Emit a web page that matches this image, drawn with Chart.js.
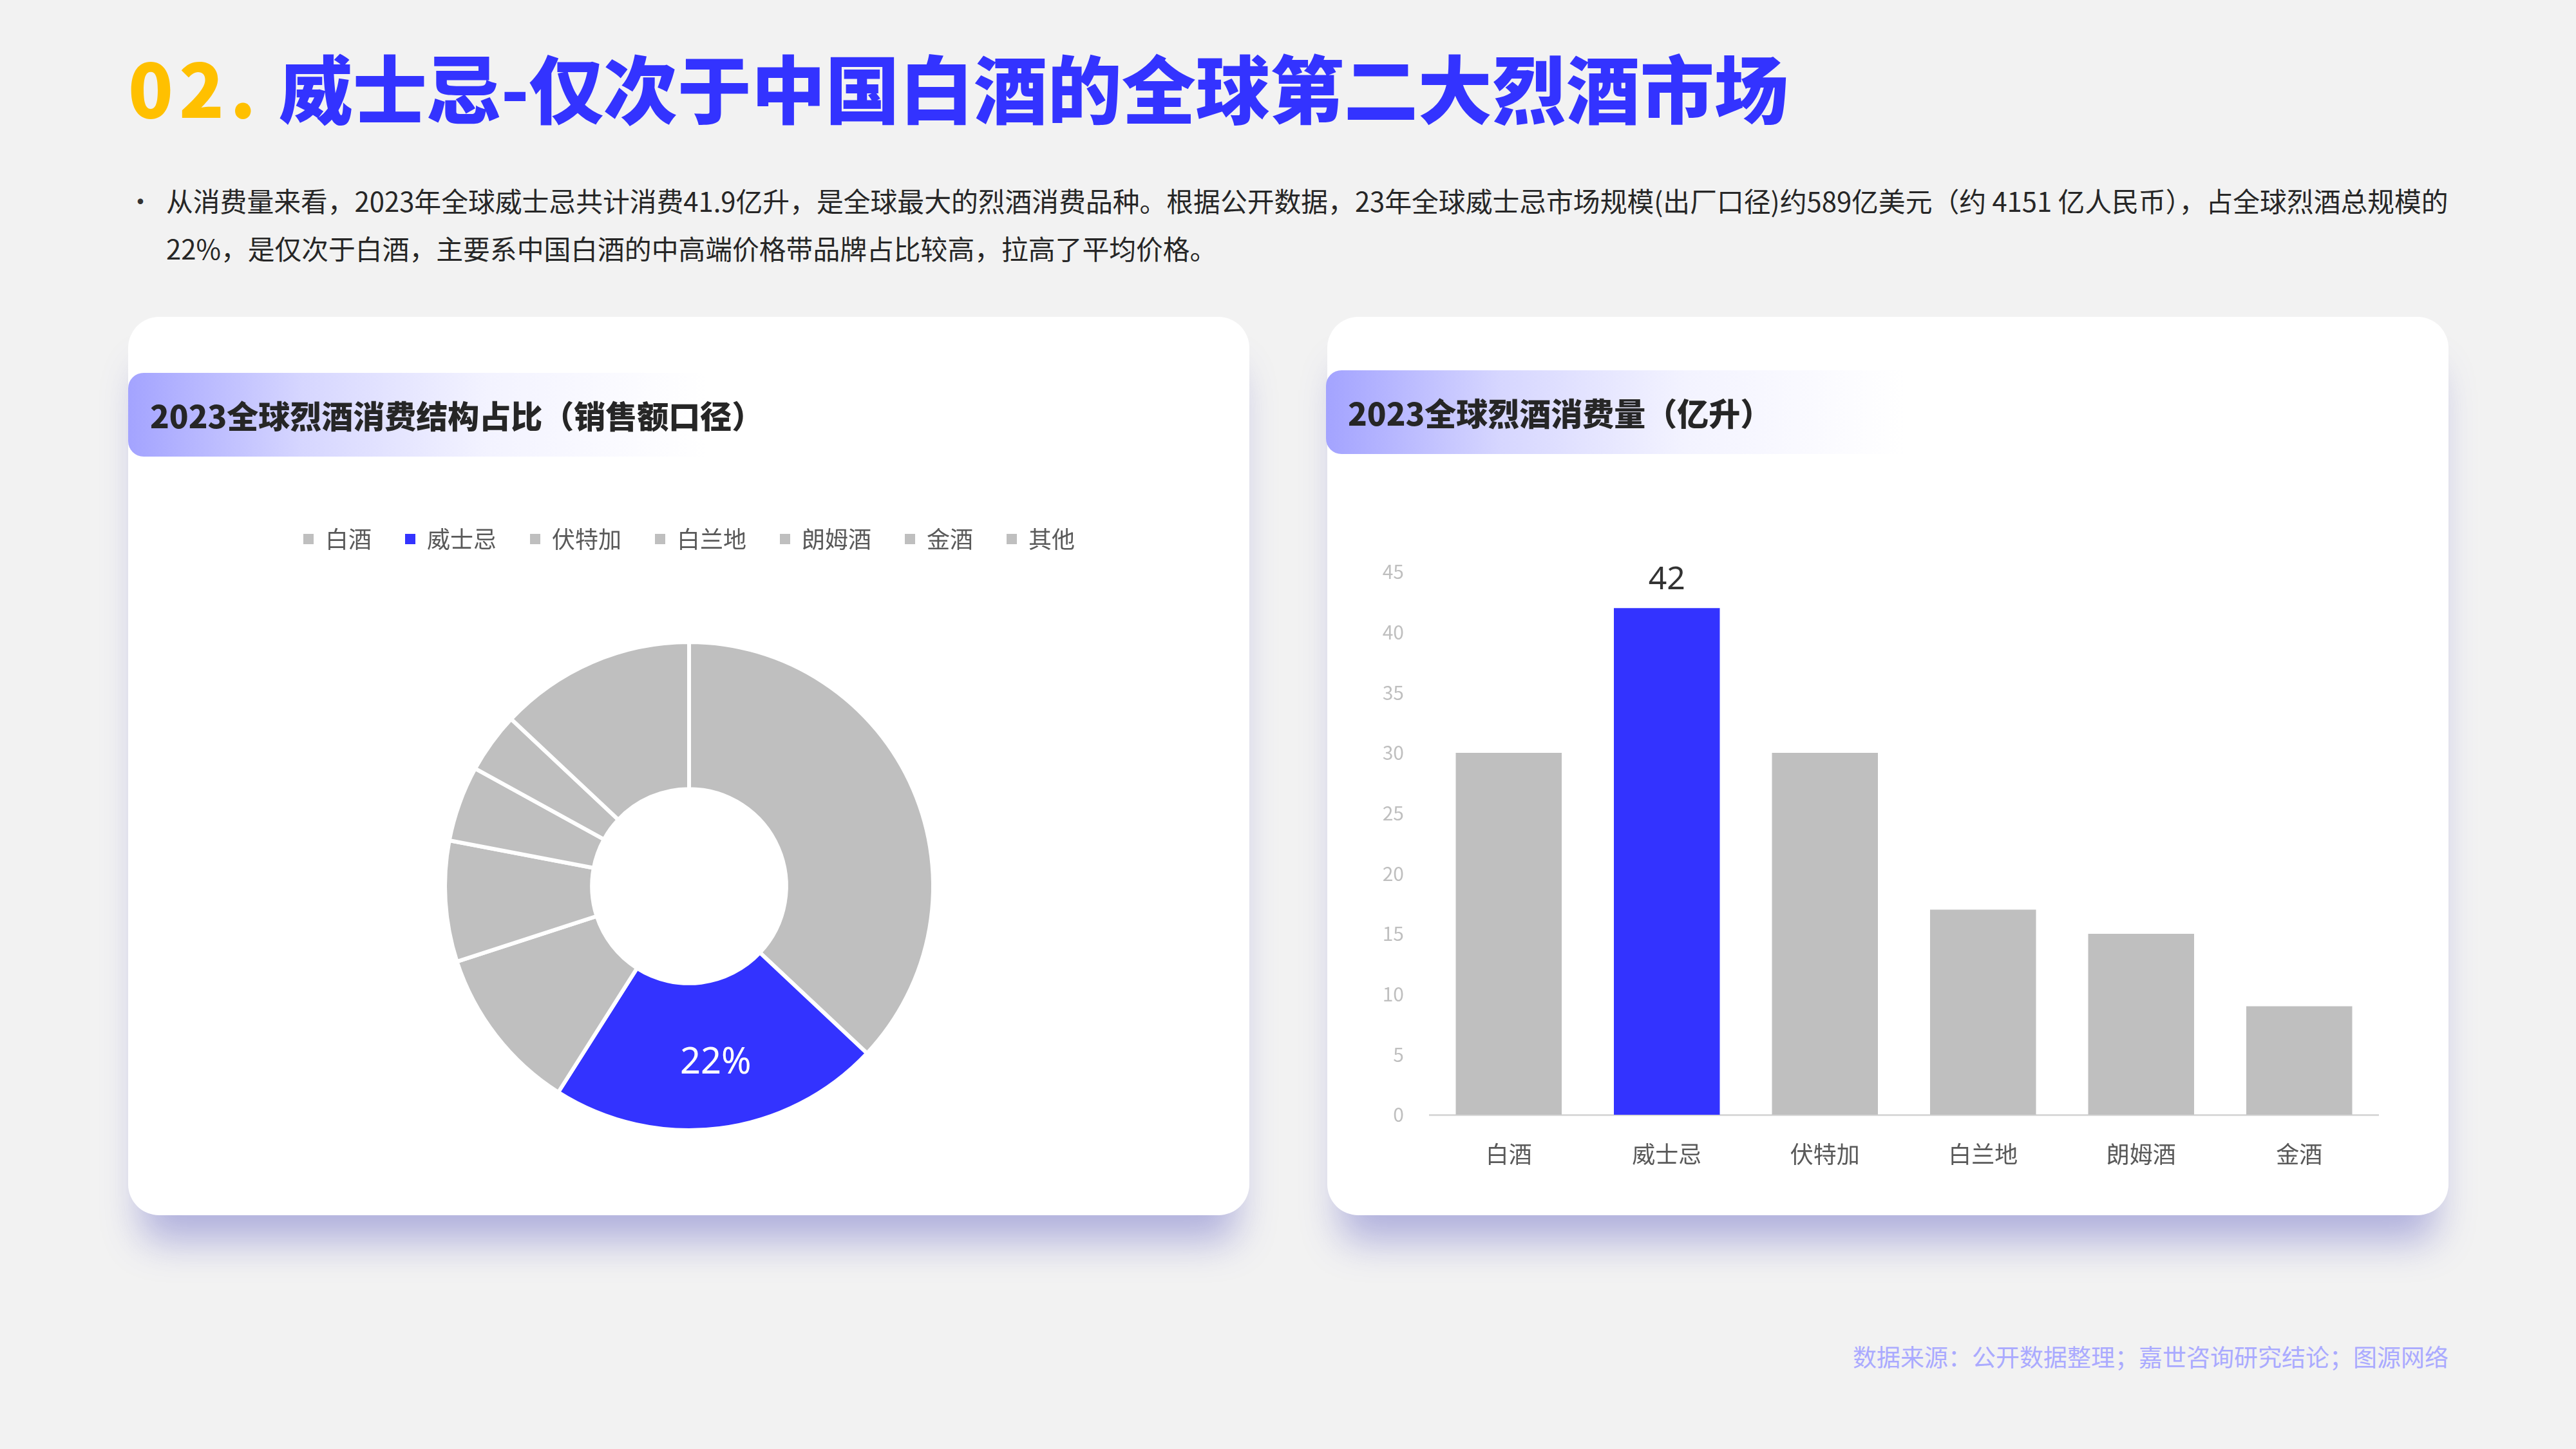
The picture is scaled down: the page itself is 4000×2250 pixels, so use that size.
<!DOCTYPE html>
<html lang="zh-CN">
<head>
<meta charset="UTF-8" />
<title>威士忌-仅次于中国白酒的全球第二大烈酒市场</title>
<style>
  body {
    margin: 0;
    width: 4000px;
    height: 2250px;
    position: relative;
    overflow: hidden;
    background: #f2f2f2;
    font-family: "Noto Sans CJK SC", "Noto Sans", sans-serif;
  }
  .title {
    position: absolute;
    left: 199px;
    top: 76px;
    font-size: 115px;
    line-height: 115px;
    font-weight: 900;
    color: #3333ff;
    white-space: nowrap;
  }
  .title span { color: #ffc000; letter-spacing: 9px; }
  .dot {
    position: absolute;
    left: 198px;
    top: 274px;
    font-size: 40px;
    line-height: 74px;
    color: #333;
  }
  .intro {
    position: absolute;
    left: 258px;
    top: 274px;
    width: 3560px;
    font-size: 41.8px;
    line-height: 74px;
    color: #262626;
    white-space: nowrap;
  }
  .card {
    position: absolute;
    top: 492px;
    width: 1741px;
    height: 1395px;
    background: #fff;
    border-radius: 48px;
    box-shadow: 0 60px 60px -20px rgba(80, 80, 190, 0.4);
  }
  .card-head {
    position: absolute;
    left: 0;
    top: 87px;
    width: 900px;
    height: 130px;
    border-radius: 24px 0 0 24px;
    background: linear-gradient(90deg, #a3a3ff 0%, #d6d6ff 30%, #f3f3ff 62%, rgba(255,255,255,0) 100%);
  }
  .card-head h2 {
    margin: 0;
    position: absolute;
    left: 34px;
    top: 0;
    line-height: 130px;
    font-size: 49px;
    font-weight: 900;
    color: #262626;
    white-space: nowrap;
  }
  .chart-box { position: absolute; }
  .source {
    position: absolute;
    right: 198px;
    top: 2088px;
    font-size: 37px;
    line-height: 37px;
    color: #aaaaff;
  }
</style>
</head>
<body>
  <div class="title"><span>02.</span> 威士忌-仅次于中国白酒的全球第二大烈酒市场</div>

  <div class="dot">•</div>
  <div class="intro">从消费量来看，2023年全球威士忌共计消费41.9亿升，是全球最大的烈酒消费品种。根据公开数据，23年全球威士忌市场规模(出厂口径)约589亿美元（约 4151 亿人民币），占全球烈酒总规模的<br>22%，是仅次于白酒，主要系中国白酒的中高端价格带品牌占比较高，拉高了平均价格。</div>

  <div class="card" style="left:199px;">
    <div class="card-head"><h2>2023全球烈酒消费结构占比（销售额口径）</h2></div>
  </div>
  <div class="card" style="left:2061px;">
    <div class="card-head" style="left:-2px; top:83px;"><h2>2023全球烈酒消费量（亿升）</h2></div>
  </div>

  <div class="chart-box" style="left:200px; top:767px; width:1740px; height:1120px;">
    <canvas id="shareChart"></canvas>
  </div>
  <div class="chart-box" style="left:2100px; top:800px; width:1660px; height:1080px;">
    <canvas id="volumeChart"></canvas>
  </div>

  <div class="source">数据来源：公开数据整理；嘉世咨询研究结论；图源网络</div>

  <script src="https://cdn.jsdelivr.net/npm/chart.js"></script>
  <script>
    // sales share of spirits, 2023 (%)
    const shareLabels = ["白酒", "威士忌", "伏特加", "白兰地", "朗姆酒", "金酒", "其他"];
    const shareValues = [37, 22, 11, 8, 5, 4, 13];

    // consumption volume, 2023 (亿升)
    const volumeLabels = ["白酒", "威士忌", "伏特加", "白兰地", "朗姆酒", "金酒"];
    const volumeValues = [30, 42, 30, 17, 15, 9];

    const yMax = 45;
    const yStep = 5;
    const highlight = "威士忌";

    const BLUE = "#3333ff";
    const GREY = "#bfbfbf";

    Chart.defaults.font.family = '"Noto Sans CJK SC", "Noto Sans", sans-serif';
    Chart.defaults.animation = false;

    const pick = labels => labels.map(l => (l === highlight ? BLUE : GREY));

    // percentage label on the highlighted slice
    const sliceLabel = {
      id: "sliceLabel",
      afterDatasetsDraw(chart) {
        const i = shareLabels.indexOf(highlight);
        const arc = chart.getDatasetMeta(0).data[i];
        const p = arc.tooltipPosition();
        const ctx = chart.ctx;
        ctx.save();
        ctx.fillStyle = "#ffffff";
        ctx.font = '56px "Noto Sans"';
        ctx.textAlign = "center";
        ctx.textBaseline = "middle";
        ctx.fillText(shareValues[i] + "%", p.x + 8, p.y + 12);
        ctx.restore();
      }
    };

    // value label above the highlighted bar
    const barLabel = {
      id: "barLabel",
      afterDatasetsDraw(chart) {
        const i = volumeLabels.indexOf(highlight);
        const bar = chart.getDatasetMeta(0).data[i];
        const ctx = chart.ctx;
        ctx.save();
        ctx.fillStyle = "#333333";
        ctx.font = '50px "Noto Sans"';
        ctx.textAlign = "center";
        ctx.textBaseline = "alphabetic";
        ctx.fillText(String(volumeValues[i]), bar.x, bar.y - 29);
        ctx.restore();
      }
    };

    const doughnutLegend = Chart.overrides.doughnut.plugins.legend.labels.generateLabels;

    new Chart(document.getElementById("shareChart"), {
      type: "doughnut",
      data: {
        labels: shareLabels,
        datasets: [{
          data: shareValues,
          backgroundColor: pick(shareLabels),
          borderColor: "#ffffff",
          borderWidth: 6
        }]
      },
      options: {
        responsive: true,
        maintainAspectRatio: false,
        radius: 379,
        cutout: "39.8%",
        plugins: {
          legend: {
            position: "top",
            labels: {
              boxWidth: 16,
              boxHeight: 16,
              padding: 52,
              color: "#595959",
              font: { size: 36 },
              // plain squares, without the white slice border
              generateLabels: chart => doughnutLegend(chart).map(it => ({ ...it, lineWidth: 0 }))
            }
          },
          tooltip: { enabled: false }
        }
      },
      plugins: [sliceLabel]
    });

    new Chart(document.getElementById("volumeChart"), {
      type: "bar",
      data: {
        labels: volumeLabels,
        datasets: [{
          data: volumeValues,
          backgroundColor: pick(volumeLabels),
          barPercentage: 0.67,
          categoryPercentage: 1
        }]
      },
      options: {
        responsive: true,
        maintainAspectRatio: false,
        layout: { padding: { top: 88, right: 67, left: 0, bottom: 0 } },
        plugins: {
          legend: { display: false },
          tooltip: { enabled: false }
        },
        scales: {
          x: {
            grid: { display: false, drawTicks: false },
            border: { display: true, color: "#d9d9d9", width: 3 },
            ticks: { color: "#595959", font: { size: 36 }, padding: 40 },
            afterFit(s) { s.height = 149; }
          },
          y: {
            min: 0,
            max: yMax,
            grid: { display: false, drawTicks: false },
            border: { display: false },
            ticks: { stepSize: yStep, color: "#bfbfbf", font: { size: 30 }, padding: 40 },
            afterFit(s) { s.width = 120; }
          }
        }
      },
      plugins: [barLabel]
    });
  </script>
</body>
</html>
